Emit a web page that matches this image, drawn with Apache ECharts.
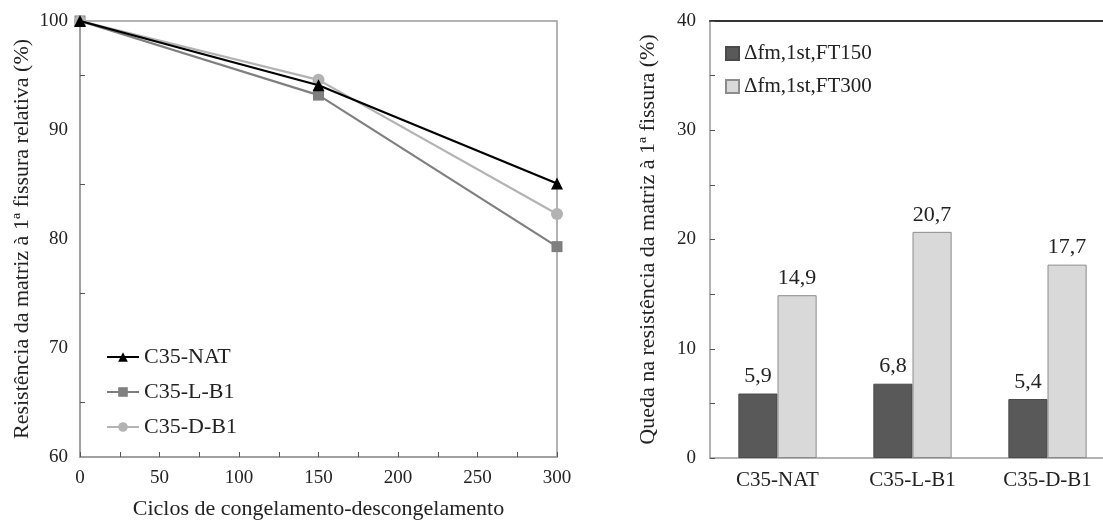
<!DOCTYPE html>
<html><head><meta charset="utf-8">
<script src="https://cdn.jsdelivr.net/npm/echarts@6/dist/echarts.min.js"></script>
<style>html,body{margin:0;padding:0;background:#fff}#c{width:1103px;height:520px}</style>
</head><body><div id="c"></div>
<script>
// Left chart data
const cycles = [0, 150, 300];
const natValues = [100, 94.1, 85.1];
const lb1Values = [100, 93.2, 79.3];
const db1Values = [100, 94.6, 82.3];
const lineNames = ['C35-NAT', 'C35-L-B1', 'C35-D-B1'];
// Right chart data
const barCategories = ['C35-NAT', 'C35-L-B1', 'C35-D-B1'];
const ft150Values = [5.9, 6.8, 5.4];
const ft300Values = [14.9, 20.7, 17.7];
const barNames = ['\u0394fm,1st,FT150', '\u0394fm,1st,FT300'];

const F = '"Liberation Serif", "DejaVu Serif", serif';
const axisGray = '#9a9a9a';
const chart = echarts.init(document.getElementById('c'));
const pts = v => cycles.map((c, i) => [c, v[i]]);
const fmt = p => p.value.toFixed(1).replace('.', ',');

chart.setOption({
  animation: false,
  textStyle: { fontFamily: F },
  grid: [
    { left: 80, top: 21, width: 477, height: 436, show: true, borderColor: axisGray, borderWidth: 1.5, outerBoundsMode: 'none' },
    { left: 710, top: 21, width: 405, height: 437, outerBoundsMode: 'none' }
  ],
  legend: [
    { orient: 'vertical', left: 101, top: 341, itemGap: 13, itemWidth: 32, itemHeight: 12,
      textStyle: { fontFamily: F, fontSize: 22, color: '#222' },
      data: lineNames },
    { orient: 'vertical', left: 720, top: 38, itemGap: 12, itemWidth: 13, itemHeight: 13, icon: 'rect',
      textStyle: { fontFamily: F, fontSize: 21, color: '#222' },
      data: barNames }
  ],
  xAxis: [
    { type: 'value', gridIndex: 0, min: 0, max: 300, interval: 50,
      name: 'Ciclos de congelamento-descongelamento', nameLocation: 'middle', nameGap: 41,
      nameTextStyle: { fontFamily: F, fontSize: 22, color: '#222' },
      axisLine: { lineStyle: { color: axisGray, width: 1.5 } },
      axisTick: { show: true, inside: true, length: 5, lineStyle: { color: '#555' } },
      minorTick: { show: true, splitNumber: 2, length: 5, lineStyle: { color: '#555' } },
      splitLine: { show: false },
      axisLabel: { fontFamily: F, fontSize: 19, color: '#222', margin: 12 } },
    { type: 'category', gridIndex: 1, data: barCategories,
      axisLine: { lineStyle: { color: axisGray, width: 1.5 } },
      axisTick: { show: false },
      axisLabel: { fontFamily: F, fontSize: 21, color: '#222', margin: 12 } },
    { type: 'category', gridIndex: 1, position: 'top', data: barCategories,
      axisLine: { lineStyle: { color: '#333', width: 2 } },
      axisTick: { show: false }, axisLabel: { show: false } }
  ],
  yAxis: [
    { type: 'value', gridIndex: 0, min: 60, max: 100, interval: 10,
      name: 'Resistência da matriz à 1ª fissura relativa (%)', nameLocation: 'middle', nameGap: 47,
      nameTextStyle: { fontFamily: F, fontSize: 22, color: '#222' },
      axisLine: { show: true, lineStyle: { color: axisGray, width: 1.5 } },
      axisTick: { show: true, inside: true, length: 5, lineStyle: { opacity: 0 } },
      minorTick: { show: true, splitNumber: 2, length: 5, lineStyle: { color: '#555' } },
      splitLine: { show: false },
      axisLabel: { fontFamily: F, fontSize: 19, color: '#222', margin: 12 } },
    { type: 'value', gridIndex: 1, min: 0, max: 40, interval: 10,
      name: 'Queda na resistência da matriz à 1ª fissura (%)', nameLocation: 'middle', nameGap: 51,
      nameTextStyle: { fontFamily: F, fontSize: 22, color: '#222' },
      axisLine: { show: true, lineStyle: { color: axisGray, width: 1.5 } },
      axisTick: { show: true, inside: true, length: 5, lineStyle: { color: '#555' } },
      minorTick: { show: true, splitNumber: 2, length: 5, lineStyle: { color: '#555' } },
      splitLine: { show: false },
      axisLabel: { fontFamily: F, fontSize: 19, color: '#222', margin: 14 } }
  ],
  series: [
    { name: lineNames[0], type: 'line', xAxisIndex: 0, yAxisIndex: 0, data: pts(natValues),
      symbol: 'triangle', symbolSize: 12, z: 5,
      lineStyle: { color: '#000', width: 2.2 }, itemStyle: { color: '#000' } },
    { name: lineNames[1], type: 'line', xAxisIndex: 0, yAxisIndex: 0, data: pts(lb1Values),
      symbol: 'rect', symbolSize: 11, z: 3,
      lineStyle: { color: '#7f7f7f', width: 2.2 }, itemStyle: { color: '#7f7f7f' } },
    { name: lineNames[2], type: 'line', xAxisIndex: 0, yAxisIndex: 0, data: pts(db1Values),
      symbol: 'circle', symbolSize: 12, z: 4,
      lineStyle: { color: '#b3b3b3', width: 2.2 }, itemStyle: { color: '#b3b3b3' } },
    { name: barNames[0], type: 'bar', xAxisIndex: 1, yAxisIndex: 1, data: ft150Values,
      barGap: '0%', barCategoryGap: '42%',
      itemStyle: { color: '#595959', borderColor: '#4a4a4a', borderWidth: 1 },
      label: { show: true, position: 'top', distance: 6, formatter: fmt, fontFamily: F, fontSize: 22, color: '#222' } },
    { name: barNames[1], type: 'bar', xAxisIndex: 1, yAxisIndex: 1, data: ft300Values,
      barGap: '0%', barCategoryGap: '42%',
      itemStyle: { color: '#d9d9d9', borderColor: '#8c8c8c', borderWidth: 1 },
      label: { show: true, position: 'top', distance: 6, formatter: fmt, fontFamily: F, fontSize: 22, color: '#222' } }
  ]
});
</script></body></html>
